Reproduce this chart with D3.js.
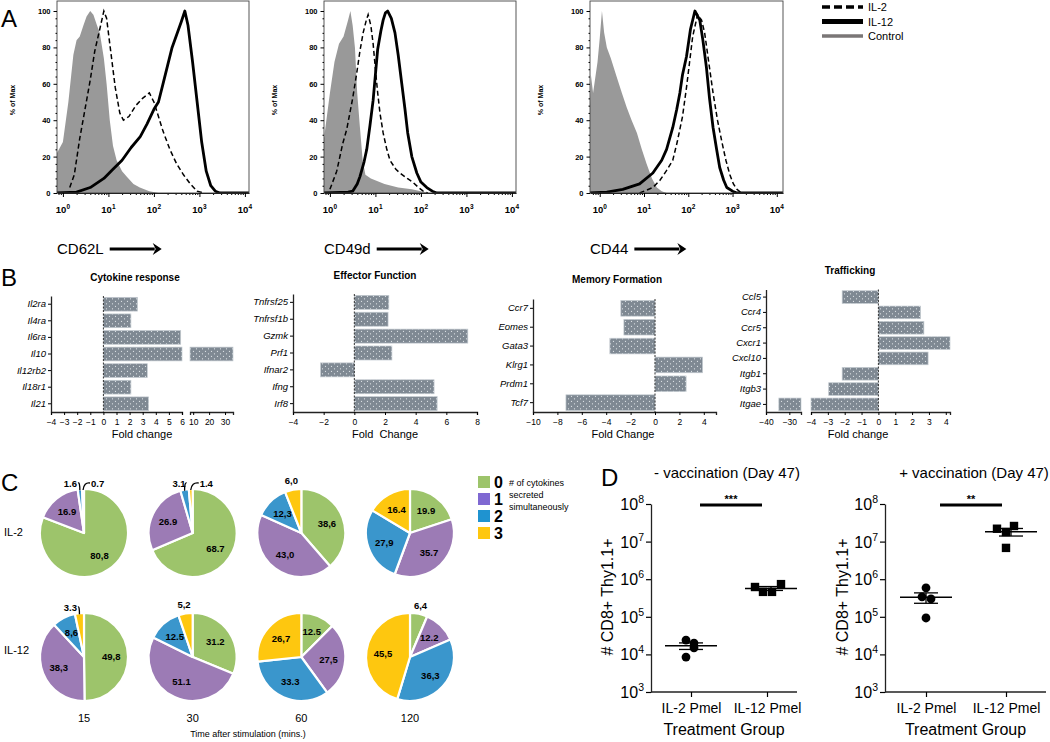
<!DOCTYPE html>
<html><head><meta charset="utf-8">
<script src="https://cdn.jsdelivr.net/npm/d3@7"></script>
<style>body{margin:0;background:#fff}svg{display:block;font-family:"Liberation Sans",Arial,Helvetica,sans-serif}</style>
</head><body><svg id="c" width="1050" height="742"></svg>
<script>
// ---------------- DATA ----------------
// Panel A: histograms, points are [log10(channel), % of max]
const histLabels = ["CD62L","CD49d","CD44"];
const cd62lControl = [[-0.13,22],[0,28],[0.12,50],[0.23,76],[0.3,84],[0.37,86],[0.45,92],[0.52,97],[0.6,100],[0.67,98],[0.75,92],[0.81,88],[0.9,74],[0.96,60],[1.03,40],[1.1,26],[1.18,18],[1.3,12],[1.4,9],[1.55,5],[1.69,3],[1.9,1],[2.1,0]];
const cd62lIL2 = [[0.15,3],[0.25,10],[0.37,30],[0.5,48],[0.6,62],[0.7,78],[0.81,90],[0.9,100],[0.96,96],[1.05,78],[1.15,58],[1.25,44],[1.33,40],[1.45,42],[1.6,48],[1.75,52],[1.9,55],[2.0,50],[2.1,42],[2.2,34],[2.35,24],[2.5,16],[2.65,10],[2.8,5],[2.95,1],[3.1,0]];
const cd62lIL12 = [[-0.13,0],[0.3,0.5],[0.6,3],[0.9,8],[1.1,13],[1.3,18],[1.5,25],[1.7,31],[1.85,38],[2.0,46],[2.1,50],[2.2,60],[2.3,70],[2.4,80],[2.5,87],[2.6,94],[2.68,100],[2.75,92],[2.85,72],[2.95,50],[3.05,28],[3.15,12],[3.25,4],[3.35,1],[3.45,0],[4.1,0]];
const cd49dControl = [[-0.13,30],[0,55],[0.1,72],[0.2,82],[0.3,86],[0.4,95],[0.45,100],[0.5,92],[0.55,80],[0.6,55],[0.66,36],[0.72,18],[0.78,10],[0.9,8],[1.2,5],[1.5,3],[1.8,2],[2.0,1],[2.2,0]];
const cd49dIL2 = [[0.0,2],[0.15,12],[0.28,27],[0.37,35],[0.5,52],[0.59,66],[0.66,78],[0.73,88],[0.8,95],[0.84,98],[0.9,92],[0.95,82],[1.0,68],[1.05,55],[1.1,44],[1.17,33],[1.25,24],[1.32,18],[1.45,13],[1.54,11],[1.7,8],[1.82,6],[1.95,3],[2.05,1],[2.15,0]];
const cd49dIL12 = [[-0.13,0],[0.4,0.5],[0.5,1],[0.6,5],[0.66,9],[0.75,17],[0.81,24],[0.88,37],[0.95,51],[1.0,65],[1.05,79],[1.12,89],[1.17,95],[1.22,99],[1.27,100],[1.35,96],[1.43,88],[1.5,76],[1.58,60],[1.65,46],[1.71,33],[1.8,20],[1.91,11],[2.0,6],[2.13,3],[2.25,1],[2.35,0],[4.1,0]];
const cd44Control = [[-0.22,48],[-0.2,65],[-0.15,55],[-0.05,72],[0.0,85],[0.05,100],[0.1,88],[0.16,80],[0.25,74],[0.38,64],[0.5,55],[0.61,47],[0.72,40],[0.84,33],[0.95,24],[1.06,16],[1.18,8],[1.29,3],[1.4,1],[1.51,0]];
const cd44IL2 = [[0.9,0],[1.2,3],[1.36,7],[1.5,12],[1.65,18],[1.75,28],[1.87,42],[1.96,58],[2.03,72],[2.1,86],[2.21,98],[2.3,95],[2.37,88],[2.45,74],[2.56,55],[2.66,40],[2.76,28],[2.85,18],[2.94,10],[3.02,5],[3.1,2],[3.2,0]];
const cd44IL12 = [[-0.22,0],[0.16,0.5],[0.52,2],[0.9,5],[1.2,11],[1.4,18],[1.51,24],[1.65,36],[1.74,46],[1.81,55],[1.87,65],[1.96,75],[2.05,90],[2.15,100],[2.26,95],[2.33,84],[2.41,69],[2.48,52],[2.56,36],[2.64,24],[2.71,14],[2.8,7],[2.87,3],[3.0,1],[3.1,0],[4.2,0]];
const histYTicks = [0,20,40,60,80,100];
const histXTicks = [1,10,100,1000,10000];
const histLegend = ["IL-2","IL-12","Control"];

// Panel B: fold changes
const cytoCats = ["Il2ra","Il4ra","Il6ra","Il10","Il12rb2","Il18r1","Il21"];
const cytoVals = [2.6,2.1,5.9,35,3.35,2.1,3.45];
const effCats = ["Tnfrsf25","Tnfrsf1b","Gzmk","Prf1","Ifnar2","Ifng","Irf8"];
const effVals = [2.25,2.2,7.4,2.45,-2.2,5.2,5.4];
const memCats = ["Ccr7","Eomes","Gata3","Klrg1","Prdm1","Tcf7"];
const memVals = [-2.8,-2.55,-3.7,3.9,2.55,-7.3];
const trafCats = ["Ccl5","Ccr4","Ccr5","Cxcr1","Cxcl10","Itgb1","Itgb3","Itgae"];
const trafVals = [-2.15,2.5,2.7,4.25,2.95,-2.15,-2.95,-34.5];
const cytoTicksA = [-4,-3,-2,-1,0,1,2,3,4,5,6];
const cytoTicksB = [10,20,30];
const effTicks = [-4,-2,0,2,4,6,8];
const memTicks = [-10,-8,-6,-4,-2,0,2,4];
const trafTicksA = [-40,-30];
const trafTicksB = [-4,-3,-2,-1,0,1,2,3,4];

// Panel C: pies (% of cells secreting 0/1/2/3 cytokines)
const pieTimes = ["15","30","60","120"];
const pieRows = ["IL-2","IL-12"];
const pieKeys = ["0","1","2","3"];
const il2Pies = [[80.8,16.9,1.6,0.7],[68.7,26.9,3.1,1.4],[38.6,43.0,12.3,6.0],[19.9,35.7,27.9,16.4]];
const il2PieLabels = [["80,8","16.9","1.6","0.7"],["68.7","26.9","3.1","1.4"],["38,6","43,0","12,3","6,0"],["19.9","35.7","27,9","16.4"]];
const il12Pies = [[49.8,38.3,8.6,3.3],[31.2,51.1,12.5,5.2],[12.5,27.5,33.3,26.7],[6.4,12.2,36.3,45.5]];
const il12PieLabels = [["49,8","38,3","8,6","3.3"],["31.2","51.1","12.5","5,2"],["12.5","27,5","33.3","26,7"],["6,4","12.2","36,3","45,5"]];

// Panel D: cell counts
const dCats = ["IL-2 Pmel","IL-12 Pmel"];
const minusIL2 = [2.4e4,2.0e4,1.5e4,8.5e3];
const minusIL12 = [6.2e5,4.6e5,4.6e5,7.4e5];
const plusIL2 = [5.9e5,3.4e5,3.0e5,9.3e4];
const plusIL12 = [2.2e7,1.8e7,2.6e7,6.8e6];
const dTicks = [1e3,1e4,1e5,1e6,1e7,1e8];

// ---------------- DRAW ----------------
const svg = d3.select("#c");
const defs = svg.append("defs");
const pat = defs.append("pattern").attr("id","dots").attr("patternUnits","userSpaceOnUse").attr("width",6).attr("height",5);
pat.append("rect").attr("width",6).attr("height",5).attr("fill","#7f8993");
pat.append("circle").attr("cx",1.5).attr("cy",1.3).attr("r",0.6).attr("fill","#e8ecef");
pat.append("circle").attr("cx",4.5).attr("cy",3.8).attr("r",0.6).attr("fill","#e8ecef");

function panelLetter(t,x,y){svg.append("text").attr("x",x).attr("y",y).attr("font-size",24).text(t);}
panelLetter("A",1,27);panelLetter("B",1,286);panelLetter("C",1,491);panelLetter("D",601,486);

function sup(sel, base, exp, fs, efs, dy){
  sel.append("tspan").text(base);
  sel.append("tspan").attr("font-size",efs).attr("dy",dy).text(exp);
}

// ---- Panel A ----
const histData = [[cd62lControl,cd62lIL2,cd62lIL12],[cd49dControl,cd49dIL2,cd49dIL12],[cd44Control,cd44IL2,cd44IL12]];
const histLayout = [{x0:57,x1:249,lmin:-0.13,lmax:4.09,yl:15},{x0:324,x1:516,lmin:-0.13,lmax:4.09,yl:277},{x0:590,x1:783,lmin:-0.22,lmax:4.14,yl:543}];
histLayout.forEach((L,i)=>{
  const [ctrl,il2,il12] = histData[i];
  const g = svg.append("g");
  const x = d3.scaleLog().domain([10**L.lmin,10**L.lmax]).range([L.x0,L.x1]);
  const y = d3.scaleLinear().domain([0,105.5]).range([193,1]);
  const cid = "clip"+i;
  defs.append("clipPath").attr("id",cid).append("rect").attr("x",L.x0).attr("y",1).attr("width",L.x1-L.x0).attr("height",192);
  const pg = g.append("g").attr("clip-path",`url(#${cid})`);
  pg.append("path").datum(ctrl).attr("fill","#999").attr("d",d3.area().x(d=>x(10**d[0])).y0(y(0)).y1(d=>y(d[1])));
  pg.append("path").datum(il12).attr("fill","none").attr("stroke","#000").attr("stroke-width",2.8).attr("stroke-linejoin","round").attr("d",d3.line().x(d=>x(10**d[0])).y(d=>y(d[1])));
  pg.append("path").datum(il2).attr("fill","none").attr("stroke","#000").attr("stroke-width",1.5).attr("stroke-dasharray","5,3").attr("d",d3.line().x(d=>x(10**d[0])).y(d=>y(d[1])));
  g.append("rect").attr("x",L.x0).attr("y",1).attr("width",L.x1-L.x0).attr("height",192).attr("fill","none").attr("stroke","#444").attr("stroke-width",0.9);
  const minor = [];
  for(let d=-1; d<4; d++) for(let m=2;m<10;m++){const v=m*10**d; if(v>=10**L.lmin && v<=10**L.lmax) minor.push(v);}
  g.append("g").attr("transform","translate(0,193)").call(d3.axisBottom(x).tickValues(minor).tickSize(2).tickFormat("").tickSizeOuter(0)).call(a=>a.select(".domain").remove());
  const xa = g.append("g").attr("transform","translate(0,193)").call(d3.axisBottom(x).tickValues(histXTicks).tickSize(4).tickFormat("").tickSizeOuter(0));
  xa.select(".domain").attr("stroke","#222");
  histXTicks.forEach((v,k)=>{
    const t = g.append("text").attr("x",x(v)).attr("y",213).attr("text-anchor","middle").attr("font-size",9.5).attr("font-weight","bold");
    sup(t,"10",String(k),9.5,6.5,-4);
  });
  g.append("g").attr("transform",`translate(${L.x0},0)`).call(d3.axisLeft(y).tickValues(d3.range(0,101,4).filter(v=>v%20)).tickSize(1.5).tickFormat("").tickSizeOuter(0)).call(a=>a.select(".domain").remove());
  const ya = g.append("g").attr("transform",`translate(${L.x0},0)`).call(d3.axisLeft(y).tickValues(histYTicks).tickSize(3.5).tickPadding(3).tickSizeOuter(0));
  ya.select(".domain").remove();
  ya.selectAll("text").attr("font-size",7.5).attr("font-weight","bold").attr("font-family","inherit");
  g.append("text").attr("transform",`translate(${L.yl},100) rotate(-90)`).attr("text-anchor","middle").attr("font-size",7).attr("font-weight","bold").text("% of Max");
  const lab = g.append("text").attr("x",L.x0).attr("y",254).attr("font-size",15).text(histLabels[i]);
  const w = lab.node().getComputedTextLength();
  const ax0 = L.x0+w+6, ax1 = ax0+52;
  g.append("line").attr("x1",ax0).attr("x2",ax1-7).attr("y1",249).attr("y2",249).attr("stroke","#000").attr("stroke-width",3.2);
  g.append("path").attr("d",`M${ax1-9},243 L${ax1},249 L${ax1-9},255 L${ax1-6},249 Z`).attr("fill","#000");
});
const legStyles = [{dash:"8,4",w:3.5,c:"#000"},{dash:null,w:5,c:"#000"},{dash:null,w:3.5,c:"#7a7676"}];
histLegend.forEach((t,k)=>{
  const yy = 7+k*14.5;
  const l = svg.append("line").attr("x1",822).attr("x2",863).attr("y1",yy).attr("y2",yy).attr("stroke",legStyles[k].c).attr("stroke-width",legStyles[k].w);
  if(legStyles[k].dash) l.attr("stroke-dasharray",legStyles[k].dash);
  svg.append("text").attr("x",868).attr("y",yy+4).attr("font-size",11).text(t);
});

// ---- Panel B ----
function barPanel(c){
  const g = svg.append("g");
  const yb = d3.scaleBand().domain(c.cats).range([c.top,412]).paddingInner(0.17).paddingOuter(0.08);
  const segs = c.segs.map(s=>Object.assign({},s,{sc:d3.scaleLinear().domain(s.domain).range(s.range)}));
  c.cats.forEach((cat,i)=>{
    const v=c.vals[i], lo=Math.min(0,v), hi=Math.max(0,v);
    segs.forEach(s=>{
      const a=Math.max(lo,s.domain[0]), b=Math.min(hi,s.domain[1]);
      if(b>a) g.append("rect").attr("x",s.sc(a)).attr("width",s.sc(b)-s.sc(a)).attr("y",yb(cat)).attr("height",yb.bandwidth())
        .attr("fill","url(#dots)").attr("stroke","#c4cbd1").attr("stroke-width",0.7);
    });
  });
  const zs = segs.find(s=>s.domain[0]<=0 && s.domain[1]>=0).sc(0);
  g.append("line").attr("x1",zs).attr("x2",zs).attr("y1",c.top).attr("y2",412).attr("stroke","#333").attr("stroke-width",1).attr("stroke-dasharray","2,1.5");
  segs.forEach(s=>{
    const a = g.append("g").attr("transform","translate(0,412)").call(d3.axisBottom(s.sc).tickValues(s.ticks).tickSize(3).tickPadding(4).tickSizeOuter(3));
    a.select(".domain").attr("stroke","#222").attr("stroke-width",1.3);
    a.selectAll("text").attr("font-size",8.5).attr("font-family","inherit");
  });
  const ya = g.append("g").attr("transform",`translate(${c.axisX},0)`).call(d3.axisLeft(yb).tickSize(3).tickPadding(2).tickSizeOuter(0));
  ya.select(".domain").attr("stroke","#222").attr("stroke-width",1.3);
  ya.selectAll("text").attr("font-size",9.5).attr("font-style","italic").attr("font-family","inherit");
  g.append("text").attr("x",c.titleX).attr("y",c.titleY).attr("text-anchor","middle").attr("font-size",10).attr("font-weight","bold").text(c.title);
  g.append("text").attr("x",c.xlabX).attr("y",438).attr("text-anchor","middle").attr("font-size",11).attr("xml:space","preserve").text(c.xlab);
}
barPanel({cats:cytoCats,vals:cytoVals,top:296,axisX:51,title:"Cytokine response",titleX:135,titleY:281,xlab:"Fold change",xlabX:142,
  segs:[{domain:[-4,6],range:[51,182],ticks:cytoTicksA},{domain:[8,35],range:[190,233],ticks:cytoTicksB}]});
barPanel({cats:effCats,vals:effVals,top:294,axisX:293,title:"Effector Function",titleX:375,titleY:279,xlab:"Fold  Change",xlabX:385,
  segs:[{domain:[-4,8],range:[293,477],ticks:effTicks}]});
barPanel({cats:memCats,vals:memVals,top:299,axisX:533,title:"Memory Formation",titleX:617,titleY:283,xlab:"Fold Change",xlabX:623,
  segs:[{domain:[-10,5],range:[533,716],ticks:memTicks}]});
barPanel({cats:trafCats,vals:trafVals,top:289.5,axisX:766,title:"Trafficking",titleX:850,titleY:274,xlab:"Fold change",xlabX:858,
  segs:[{domain:[-40,-25],range:[766,801],ticks:trafTicksA},{domain:[-4,4.25],range:[811,950],ticks:trafTicksB}]});

// ---- Panel C ----
const pieColors = ["#9dc46b","#9c7bb5","#3a96cc","#fec70f"];
const legColors = ["#9dc46b","#7f68d2","#1f93d0","#fec70f"];
const R = 44;
const px = d3.scalePoint().domain(pieTimes).range([84,410]);
const py = d3.scalePoint().domain(pieRows).range([533,657]);
const rowLabelY = {"IL-2":536,"IL-12":654};
const arc = d3.arc().innerRadius(0).outerRadius(R);
const pie = d3.pie().sort(null).value(d=>d);
[[il2Pies,il2PieLabels],[il12Pies,il12PieLabels]].forEach(([vals,labs],r)=>{
  const row = pieRows[r];
  svg.append("text").attr("x",4).attr("y",rowLabelY[row]).attr("font-size",11).text(row);
  vals.forEach((v,k)=>{
    const cx = px(pieTimes[k]), cy = py(row);
    const g = svg.append("g").attr("transform",`translate(${cx},${cy})`);
    const arcs = pie(v);
    g.selectAll("path").data(arcs).join("path").attr("d",arc).attr("fill",(d,j)=>pieColors[j]).attr("stroke","#fff").attr("stroke-width",2.2).attr("stroke-linejoin","round");
    arcs.forEach((d,j)=>{
      const val = v[j], txt = labs[k][j];
      const mid = (d.startAngle+d.endAngle)/2;
      if(val>=7){
        const rr = R*0.62;
        g.append("text").attr("x",Math.sin(mid)*rr).attr("y",-Math.cos(mid)*rr+3.5).attr("text-anchor","middle").attr("font-size",9.5).attr("font-weight","bold").text(txt);
      } else if(val>=4){
        const rr = R+9;
        g.append("text").attr("x",Math.sin(mid)*rr).attr("y",-Math.cos(mid)*rr+3.5).attr("text-anchor","middle").attr("font-size",9.5).attr("font-weight","bold").text(txt);
      } else {
        const prevSmall = j>0 && v[j-1]<4;
        const ex = Math.sin(mid)*R, ey = -Math.cos(mid)*R;
        if(prevSmall){
          g.append("text").attr("x",7).attr("y",-R-2).attr("font-size",9.5).attr("font-weight","bold").text(txt);
          g.append("path").attr("d",`M6,${-R-6} Q${ex+1},${-R-7} ${ex},${ey+1}`).attr("fill","none").attr("stroke","#000").attr("stroke-width",1.3);
        } else {
          g.append("text").attr("x",-7).attr("y",-R-2).attr("text-anchor","end").attr("font-size",9.5).attr("font-weight","bold").text(txt);
          g.append("path").attr("d",`M-6,${-R-6} Q${ex},${-R-7} ${ex},${ey+1}`).attr("fill","none").attr("stroke","#000").attr("stroke-width",1.3);
        }
      }
    });
  });
});
pieTimes.forEach(t=>svg.append("text").attr("x",px(t)).attr("y",722).attr("text-anchor","middle").attr("font-size",11).text(t));
svg.append("text").attr("x",248).attr("y",737).attr("text-anchor","middle").attr("font-size",9).text("Time after stimulation (mins.)");
pieKeys.forEach((k,i)=>{
  const yy = 482+i*17;
  svg.append("rect").attr("x",478).attr("y",yy-6).attr("width",12).attr("height",12).attr("fill",legColors[i]);
  svg.append("text").attr("x",494).attr("y",yy+6).attr("font-size",16).attr("font-weight","bold").text(k);
});
["# of cytokines","secreted","simultaneously"].forEach((t,i)=>svg.append("text").attr("x",509).attr("y",486+i*12).attr("font-size",9).text(t));

// ---- Panel D ----
function dotPanel(c){
  const g = svg.append("g");
  const y = d3.scaleLog().domain([1e3,1e8]).range([692,504]);
  const x = d3.scalePoint().domain(dCats).range(c.catRange);
  const ya = g.append("g").attr("transform",`translate(${c.axisX},0)`).call(d3.axisLeft(y).tickValues(dTicks).tickSize(5).tickFormat("").tickSizeOuter(0));
  ya.select(".domain").attr("stroke","#222").attr("stroke-width",1.3);
  ya.selectAll("line").attr("stroke-width",1.2);
  dTicks.forEach(v=>{
    const t = g.append("text").attr("x",c.axisX-7).attr("y",y(v)+6).attr("text-anchor","end").attr("font-size",16);
    sup(t,"10",String(Math.round(Math.log10(v))),16,10.5,-7);
  });
  g.append("line").attr("x1",c.axisX).attr("x2",c.xEnd).attr("y1",692).attr("y2",692).attr("stroke","#222").attr("stroke-width",1.3);
  const xa = g.append("g").attr("transform","translate(0,692)").call(d3.axisBottom(x).tickSize(5).tickPadding(6).tickSizeOuter(0));
  xa.select(".domain").remove();
  xa.selectAll("line").attr("stroke-width",1.2);
  xa.selectAll("text").attr("font-size",14).attr("font-family","inherit");
  const mid = (c.axisX+c.xEnd)/2;
  g.append("text").attr("x",mid).attr("y",735).attr("text-anchor","middle").attr("font-size",16).text("Treatment Group");
  g.append("text").attr("x",c.titleX).attr("y",478).attr("text-anchor","middle").attr("font-size",15).text(c.title);
  g.append("text").attr("transform",`translate(${c.ylX},597) rotate(-90)`).attr("text-anchor","middle").attr("font-size",16).text("# CD8+ Thy1.1+");
  const sm = (x(dCats[0])+x(dCats[1]))/2 + c.sigShift;
  g.append("line").attr("x1",sm-31).attr("x2",sm+31).attr("y1",505).attr("y2",505).attr("stroke","#000").attr("stroke-width",3.2);
  g.append("text").attr("x",sm).attr("y",503).attr("text-anchor","middle").attr("font-size",11).attr("font-weight","bold").text(c.sig);
  c.groups.forEach((vals,gi)=>{
    const cx = x(dCats[gi]) + c.meanShift[gi];
    const m = d3.mean(vals), sem = d3.deviation(vals)/Math.sqrt(vals.length);
    g.append("line").attr("x1",cx-26).attr("x2",cx+26).attr("y1",y(m)).attr("y2",y(m)).attr("stroke","#000").attr("stroke-width",1.5);
    g.append("line").attr("x1",cx).attr("x2",cx).attr("y1",y(m+sem)).attr("y2",y(m-sem)).attr("stroke","#000").attr("stroke-width",1.3);
    [m+sem,m-sem].forEach(b=>g.append("line").attr("x1",cx-12).attr("x2",cx+12).attr("y1",y(b)).attr("y2",y(b)).attr("stroke","#000").attr("stroke-width",1.3));
    vals.forEach((v,j)=>{
      const xx = x(dCats[gi]) + c.jitter[gi][j];
      if(gi===0) g.append("circle").attr("cx",xx).attr("cy",y(v)).attr("r",4.4).attr("fill","#000");
      else g.append("rect").attr("x",xx-4.2).attr("y",y(v)-4.2).attr("width",8.4).attr("height",8.4).attr("fill","#000");
    });
  });
}
dotPanel({axisX:651,xEnd:797,catRange:[691,767],ylX:613,title:"- vaccination (Day 47)",titleX:727,sig:"***",sigShift:2,
  groups:[minusIL2,minusIL12],jitter:[[-5,3,3,-5],[-12,-4,5,14]],meanShift:[0,4]});
dotPanel({axisX:885,xEnd:1046,catRange:[926,1006],ylX:848,title:"+ vaccination (Day 47)",titleX:974,sig:"**",sigShift:5,
  groups:[plusIL2,plusIL12],jitter:[[0,-4,5,0],[-9,0,8,0]],meanShift:[0,5]});
</script></body></html>
